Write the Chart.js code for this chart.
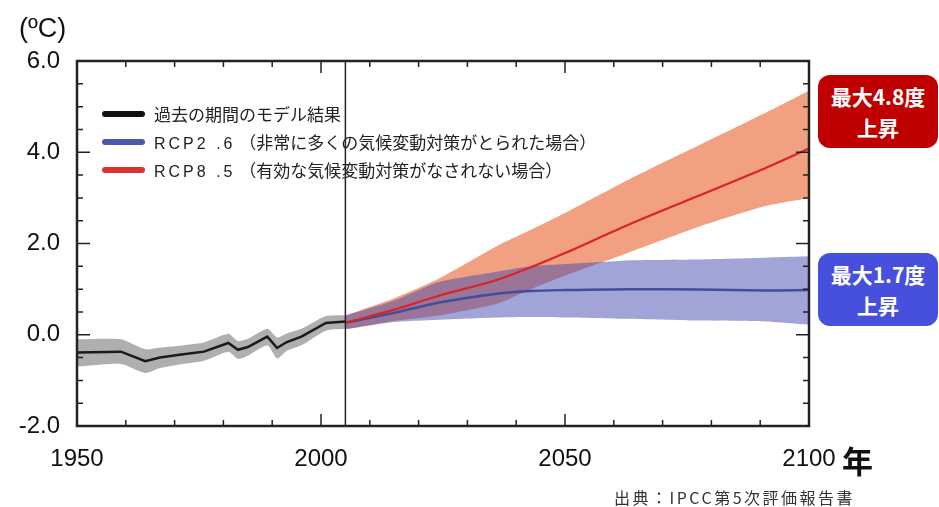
<!DOCTYPE html>
<html lang="ja">
<head>
<meta charset="utf-8">
<script src="https://cdn.jsdelivr.net/npm/chart.js@4/dist/chart.umd.min.js"></script>
<style>
  body { margin: 0; background: #fff; }
  #wrap { position: relative; width: 939px; height: 507px; font-family: "Noto Sans CJK JP", "Noto Sans", sans-serif; }
  canvas { position: absolute; left: 0; top: 0; }
  .unit { position: absolute; left: 19px; top: 13px; font: 27px "Liberation Sans", Arial, sans-serif; color: #111; }
  .nen { position: absolute; left: 842px; top: 437px; font-size: 31px; font-weight: bold; color: #111; }
  .legend { position: absolute; left: 102px; top: 103px; font-size: 17px; color: #222; }
  .legend div { height: 28px; line-height: 22px; white-space: nowrap; }
  .legend i { display: inline-block; width: 43px; height: 6px; border-radius: 3px; vertical-align: middle; margin-right: 9px; position: relative; top: -2px; }
  .legend b { font-weight: normal; letter-spacing: 3px; font-family: "Liberation Sans", sans-serif; font-size: 16px; }
  .badge { position: absolute; left: 818px; width: 120px; height: 73px; border-radius: 12px; color: #fff; font-weight: bold; font-size: 21px; text-align: center; line-height: 31px; padding-top: 6px; box-sizing: border-box; }
  .src { position: absolute; left: 614px; top: 485px; font-size: 16px; letter-spacing: 2.5px; color: #333; }
</style>
</head>
<body>
<div id="wrap">
  <canvas id="chart" width="939" height="507"></canvas>
  <div class="unit">(ºC)</div>
  <div class="legend">
    <div><i style="background:#111"></i>過去の期間のモデル結果</div>
    <div><i style="background:#4a5aa8"></i><b>RCP2 .6</b> （非常に多くの気候変動対策がとられた場合）</div>
    <div><i style="background:#e03030"></i><b>RCP8 .5</b> （有効な気候変動対策がなされない場合）</div>
  </div>
  <div class="badge" style="top:75px;background:#c00000">最大4.8度<br>上昇</div>
  <div class="badge" style="top:253px;background:#4650dc">最大1.7度<br>上昇</div>
  <div class="nen">年</div>
  <div class="src">出典：IPCC第5次評価報告書</div>
</div>
<script>
const splitYear = 2005;

const histYears = [1950, 1959, 1964, 1967, 1971, 1976, 1981, 1983, 1985, 1989, 1991, 1993, 1996, 2001, 2005];
const histMean  = [-0.39, -0.37, -0.58, -0.50, -0.44, -0.37, -0.18, -0.33, -0.27, -0.04, -0.29, -0.16, -0.04, 0.26, 0.29];
const histHigh  = [-0.10, -0.10, -0.32, -0.28, -0.24, -0.17, 0.02, -0.14, -0.09, 0.13, -0.06, 0.03, 0.13, 0.41, 0.43];
const histLow   = [-0.70, -0.64, -0.84, -0.73, -0.65, -0.57, -0.37, -0.53, -0.46, -0.23, -0.52, -0.35, -0.23, 0.09, 0.13];

const futYears  = [2005, 2015, 2024, 2036, 2043, 2050, 2063, 2077, 2091, 2100];
const rcp26Mean = [0.26, 0.48, 0.70, 0.90, 0.96, 0.98, 1.00, 0.99, 0.97, 0.98];
const rcp26High = [0.42, 0.75, 1.15, 1.38, 1.50, 1.55, 1.63, 1.65, 1.69, 1.72];
const rcp26Low  = [0.12, 0.28, 0.33, 0.38, 0.39, 0.38, 0.35, 0.31, 0.29, 0.22];
const rcp85Mean = [0.26, 0.55, 0.85, 1.20, 1.48, 1.79, 2.41, 3.03, 3.65, 4.08];
const rcp85High = [0.42, 0.80, 1.22, 1.94, 2.30, 2.67, 3.40, 4.13, 4.86, 5.35];
const rcp85Low  = [0.12, 0.30, 0.42, 0.68, 1.00, 1.30, 1.80, 2.35, 2.82, 3.00];

const yTicks = [-2, 0, 2, 4, 6];

const pts = (xs, ys) => xs.map((x, i) => ({ x: x, y: ys[i] }));

const band = (xs, ys, fill, color, order) => ({
  data: pts(xs, ys), fill: fill, backgroundColor: color, borderWidth: 0,
  pointRadius: 0, tension: 0.2, order: order
});
const line = (xs, ys, color, width, order, tension) => ({
  data: pts(xs, ys), fill: false, borderColor: color, borderWidth: width,
  pointRadius: 0, tension: tension, order: order
});

const frame = {
  id: 'frame',
  afterDatasetsDraw(chart) {
    const { ctx, chartArea: a, scales: { x, y } } = chart;
    ctx.save();
    ctx.strokeStyle = '#222';
    ctx.lineWidth = 1.5;
    ctx.beginPath();
    for (let yr = 1950; yr <= 2100; yr += 10) {
      const px = x.getPixelForValue(yr);
      const len = yr % 50 === 0 ? 12 : 6;
      ctx.moveTo(px, a.bottom); ctx.lineTo(px, a.bottom - len);
      ctx.moveTo(px, a.top); ctx.lineTo(px, a.top + len);
    }
    for (let v = -2; v <= 6; v += 0.5) {
      const py = y.getPixelForValue(v);
      const len = v % 2 === 0 ? 13 : 6;
      ctx.moveTo(a.left, py); ctx.lineTo(a.left + len, py);
      ctx.moveTo(a.right, py); ctx.lineTo(a.right - len, py);
    }
    const sx = x.getPixelForValue(splitYear);
    ctx.moveTo(sx, a.top); ctx.lineTo(sx, a.bottom);
    ctx.stroke();
    ctx.lineWidth = 2.5;
    ctx.strokeRect(a.left, a.top, a.right - a.left, a.bottom - a.top);
    ctx.restore();
  }
};

new Chart(document.getElementById('chart'), {
  type: 'line',
  data: {
    datasets: [
      band(futYears, rcp85High, '+1', '#f2a082', 9),
      band(futYears, rcp85Low, false, 'transparent', 9),
      band(futYears, rcp26High, '+1', 'rgba(65,73,173,0.5)', 8),
      band(futYears, rcp26Low, false, 'transparent', 8),
      band(histYears, histHigh, '+1', '#afafaf', 7),
      band(histYears, histLow, false, 'transparent', 7),
      line(histYears, histMean, '#1a1a1a', 2.5, 3, 0),
      line(futYears, rcp26Mean, '#3f4f9e', 2.5, 2, 0.3),
      line(futYears, rcp85Mean, '#d92424', 2.2, 1, 0.3)
    ]
  },
  options: {
    responsive: false,
    animation: false,
    layout: { padding: { top: 61, right: 130, left: 0, bottom: 0 } },
    plugins: { legend: { display: false }, tooltip: { enabled: false } },
    scales: {
      x: {
        type: 'linear', min: 1950, max: 2100,
        afterFit: s => { s.height = 81; },
        grid: { display: false, drawTicks: false },
        border: { display: false },
        ticks: { stepSize: 50, padding: 19, color: '#111', callback: v => String(v),
                 font: { family: 'Liberation Sans', size: 24 } }
      },
      y: {
        min: -2, max: 6,
        afterFit: s => { s.width = 77; },
        afterBuildTicks: s => { s.ticks = yTicks.map(v => ({ value: v })); },
        grid: { display: false, drawTicks: false },
        border: { display: false },
        ticks: { padding: 17, color: '#111', callback: v => v.toFixed(1),
                 font: { family: 'Liberation Sans', size: 24 } }
      }
    }
  },
  plugins: [frame]
});
</script>
</body>
</html>
